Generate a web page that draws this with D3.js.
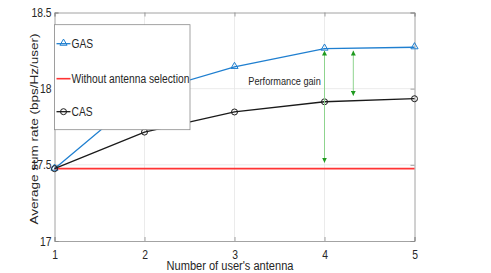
<!DOCTYPE html>
<html>
<head>
<meta charset="utf-8">
<script src="https://cdn.jsdelivr.net/npm/d3@7"></script>
<style>
  body { margin: 0; background: #fff; }
  svg text { font-family: "Liberation Sans", Arial, sans-serif; fill: #262626; }
</style>
</head>
<body>
<div class="canvas"></div>
<script>
// antenna counts and rates
const antennas = [1, 2, 3, 4, 5];
const gasRate = [17.475, 17.97, 18.143, 18.263, 18.272];
const casRate = [17.475, 17.715, 17.847, 17.914, 17.934];
const noSelRate = 17.475;
const yTicks = [17, 17.5, 18, 18.5];
const yTickLabels = ['17', '17.5', '18', '18.5'];
// performance gain arrows: [x, from, to]
const gainArrows = [[4, 17.475, 18.263], [4.32, 17.914, 18.263]];

const dims = { width: 491, height: 273 };
const margin = { left: 54.5, right: 76.5, top: 12.5, bottom: 32 };
const inner = { w: dims.width - margin.left - margin.right, h: dims.height - margin.top - margin.bottom };
const squeezeK = 0.82; // the figure is squashed sideways, so horizontal text is narrow

// move x/y into a transform and squash horizontally
const squeeze = (sel) => {
    sel.each(function() {
        const t = d3.select(this);
        const tx = +t.attr('x') || 0, ty = +t.attr('y') || 0;
        t.attr('x', 0).attr('y', 0)
            .attr('transform', `translate(${tx},${ty}) scale(${squeezeK},1)`);
    });
};

const svg = d3.select('.canvas').append('svg')
    .attr('width', dims.width)
    .attr('height', dims.height);

const defs = svg.append('defs');
defs.append('marker')
    .attr('id', 'arrowhead')
    .attr('viewBox', '0 0 10 10')
    .attr('refX', 10).attr('refY', 5)
    .attr('markerWidth', 5).attr('markerHeight', 5)
    .attr('markerUnits', 'userSpaceOnUse')
    .attr('orient', 'auto-start-reverse')
    .append('path')
    .attr('d', 'M0,0L10,5L0,10z')
    .attr('fill', '#1e9a1e');

const g = svg.append('g')
    .attr('transform', `translate(${margin.left},${margin.top})`);

const x = d3.scaleLinear().domain([1, 5]).range([0, inner.w]);
const y = d3.scaleLinear().domain([17, 18.5]).range([inner.h, 0]);

// grid
g.append('g').selectAll('line').data(antennas.slice(1, -1)).join('line')
    .attr('x1', d => x(d)).attr('x2', d => x(d))
    .attr('y1', 0).attr('y2', inner.h)
    .attr('stroke', '#e6e6e6').attr('stroke-width', 0.8);
g.append('g').selectAll('line').data(yTicks.slice(1, -1)).join('line')
    .attr('x1', 0).attr('x2', inner.w)
    .attr('y1', d => y(d)).attr('y2', d => y(d))
    .attr('stroke', '#e6e6e6').attr('stroke-width', 0.8);

// axes (box with inward ticks)
g.append('g')
    .attr('transform', `translate(0,${inner.h})`)
    .call(d3.axisBottom(x).tickValues(antennas).tickSize(-4).tickPadding(9).tickFormat(d3.format('d')));
g.append('g')
    .call(d3.axisLeft(y).tickValues(yTicks).tickSize(-4).tickPadding(3).tickFormat((d, i) => yTickLabels[i]));
g.append('g')
    .call(d3.axisTop(x).tickValues(antennas).tickSize(-4).tickFormat(''));
g.append('g').attr('transform', `translate(${inner.w},0)`)
    .call(d3.axisRight(y).tickValues(yTicks).tickSize(-4).tickFormat(''));
g.selectAll('.domain, .tick line').attr('stroke', '#8c8c8c').attr('stroke-width', 0.8);
g.selectAll('.tick text').attr('font-size', 12.6).attr('fill', '#262626').call(squeeze);

// no selection line
g.append('line')
    .attr('x1', x(1)).attr('x2', x(5))
    .attr('y1', y(noSelRate)).attr('y2', y(noSelRate))
    .attr('stroke', '#ff3333').attr('stroke-width', 1.6);

const line = d3.line().x((d, i) => x(antennas[i])).y(d => y(d));
const tri = d3.symbol().type(d3.symbolTriangle).size(22);

g.append('path').datum(gasRate).attr('d', line)
    .attr('fill', 'none').attr('stroke', '#1f7fd0').attr('stroke-width', 1.3);
g.append('g').selectAll('path').data(gasRate).join('path')
    .attr('d', tri)
    .attr('transform', (d, i) => `translate(${x(antennas[i])},${y(d) - 0.5})`)
    .attr('fill', 'none').attr('stroke', '#1f7fd0').attr('stroke-width', 1);

g.append('path').datum(casRate).attr('d', line)
    .attr('fill', 'none').attr('stroke', '#1a1a1a').attr('stroke-width', 1.3);
g.append('g').selectAll('circle').data(casRate).join('circle')
    .attr('cx', (d, i) => x(antennas[i])).attr('cy', d => y(d)).attr('r', 3)
    .attr('fill', 'none').attr('stroke', '#1a1a1a').attr('stroke-width', 1);

// gain arrows
g.append('g').selectAll('line').data(gainArrows).join('line')
    .attr('x1', d => x(d[0])).attr('x2', d => x(d[0]))
    .attr('y1', d => y(d[1]) - 6).attr('y2', d => y(d[2]) + 2)
    .attr('stroke', '#8fd48f').attr('stroke-width', 1)
    .attr('marker-start', 'url(#arrowhead)')
    .attr('marker-end', 'url(#arrowhead)');

g.append('text')
    .attr('x', x(3.556)).attr('y', y(18.024))
    .attr('text-anchor', 'middle')
    .attr('font-size', 11.2)
    .text('Performance gain')
    .call(squeeze);

// legend
const legend = g.append('g').attr('transform', `translate(0,${y(18.42)})`);
legend.append('rect')
    .attr('x', 0).attr('y', 0).attr('width', 135.5).attr('height', 105)
    .attr('fill', '#fff').attr('stroke', '#8c8c8c').attr('stroke-width', 0.8);
const entries = [
  { label: 'GAS', color: '#1f7fd0', mark: 'tri', dy: 19 },
  { label: 'Without antenna selection', color: '#ff3333', mark: 'none', dy: 54 },
  { label: 'CAS', color: '#1a1a1a', mark: 'circle', dy: 87 }
];
const item = legend.selectAll('g.item').data(entries).join('g')
    .attr('class', 'item')
    .attr('transform', d => `translate(0,${d.dy})`);
item.append('line').attr('x1', 2).attr('x2', 16).attr('y1', 0).attr('y2', 0)
    .attr('stroke', d => d.color).attr('stroke-width', d => d.mark === 'none' ? 1.6 : 1.3);
item.filter(d => d.mark === 'tri').append('path')
    .attr('d', tri).attr('transform', 'translate(9,-0.5)')
    .attr('fill', 'none').attr('stroke', d => d.color);
item.filter(d => d.mark === 'circle').append('circle')
    .attr('cx', 9).attr('cy', 0).attr('r', 3)
    .attr('fill', 'none').attr('stroke', d => d.color);
item.append('text').attr('x', 17).attr('y', 4.5)
    .attr('font-size', 12.5).text(d => d.label)
    .call(squeeze);

// axis titles
svg.append('text')
    .attr('x', 230).attr('y', 269.5)
    .attr('text-anchor', 'middle').attr('font-size', 13.5)
    .text("Number of user's antenna")
    .call(squeeze);
svg.append('text')
    .attr('transform', `translate(37.5,129) rotate(-90) scale(1,${squeezeK})`)
    .attr('text-anchor', 'middle').attr('font-size', 13.5)
    .text('Average sum rate (bps/Hz/user)');
</script>
</body>
</html>
